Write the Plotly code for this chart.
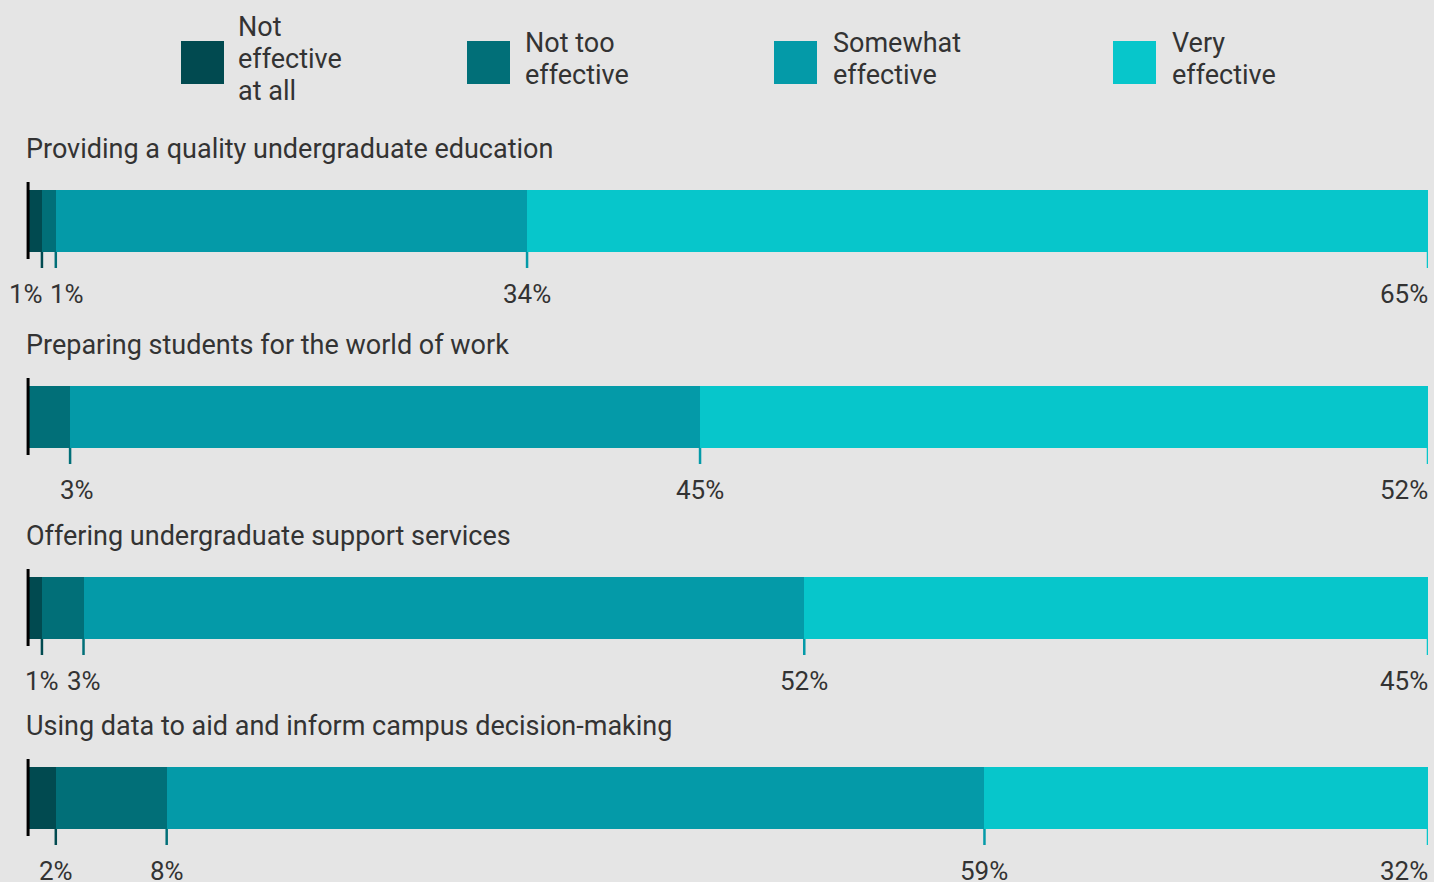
import plotly.graph_objects as go

# ---------------- data ----------------
categories = [
    "Providing a quality undergraduate education",
    "Preparing students for the world of work",
    "Offering undergraduate support services",
    "Using data to aid and inform campus decision-making",
]
series_names = [["Not", "effective", "at all"], ["Not too", "effective"], ["Somewhat", "effective"], ["Very", "effective"]]
not_effective_at_all = [1, 0, 1, 2]
not_too_effective = [1, 3, 3, 8]
somewhat_effective = [34, 45, 52, 59]
very_effective = [65, 52, 45, 32]

# ---------------- style ----------------
colors = ["#014a50", "#016f78", "#049aa8", "#07c6cb"]
BG = "#e5e5e5"
TXT = "#333333"
FONT = "Roboto"
W, H = 1434, 882
X_LEFT_PX, X_RIGHT_PX = 25, 1428
XPAD = 0.22
BAR_TOPS_PX = [190, 386, 577, 767]
BAR_H = 62
ABOVE, BELOW = 8, 16
TITLE_X = 24
TITLE_OFF = -41
LABEL_OFF = 42
LEGEND_SQ_X = [181, 467, 774, 1113]
LEGEND_TXT_X = [236, 523, 831, 1170]
LEGEND_Y = (41, 84)
LEGEND_LINE = 32
LEGEND_MID = 59
# manual label shifts for crowded labels (row, segment) -> px
LABEL_SHIFT = {(0, 0): -16, (0, 1): 11, (1, 1): 7}

series = [not_effective_at_all, not_too_effective, somewhat_effective, very_effective]

fig = go.Figure()
annotations = []
shapes = []
layout = {}

for r, cat in enumerate(categories):
    vals = [s[r] for s in series]
    total = sum(vals)
    widths = [v / total * 100 for v in vals]
    ax = "" if r == 0 else str(r + 1)
    xref, yref = "x" + ax, "y" + ax
    top = BAR_TOPS_PX[r] - ABOVE
    bot = BAR_TOPS_PX[r] + BAR_H + BELOW
    layout["xaxis" + ax] = dict(
        domain=[X_LEFT_PX / W, X_RIGHT_PX / W], range=[-XPAD, 100],
        visible=False, fixedrange=True, anchor=yref,
    )
    layout["yaxis" + ax] = dict(
        domain=[1 - bot / H, 1 - top / H], range=[-BELOW, BAR_H + ABOVE],
        visible=False, fixedrange=True, anchor=xref,
    )
    cum = 0
    for k, w in enumerate(widths):
        fig.add_trace(go.Bar(
            orientation="h", x=[w], y=[BAR_H / 2], width=BAR_H, base=[cum],
            marker=dict(color=colors[k], line=dict(width=0)),
            xaxis=xref, yaxis=yref, showlegend=False, hoverinfo="skip",
        ))
        cum += w
    # left black baseline
    fig.add_trace(go.Scatter(
        x=[0, 0], y=[-7, BAR_H + ABOVE], mode="lines",
        line=dict(color="black", width=3), xaxis=xref, yaxis=yref,
        showlegend=False, hoverinfo="skip",
    ))
    # ticks and labels
    cum = 0
    for k, (v, w) in enumerate(zip(vals, widths)):
        cum += w
        if v == 0:
            continue
        fig.add_trace(go.Scatter(
            x=[cum, cum], y=[0, -BELOW], mode="lines",
            line=dict(color=colors[k], width=2.5), xaxis=xref, yaxis=yref,
            showlegend=False, hoverinfo="skip",
        ))
        last = k == len(vals) - 1
        annotations.append(dict(
            x=cum, xref=xref, y=1 - (BAR_TOPS_PX[r] + BAR_H + LABEL_OFF) / H, yref="paper",
            text=f"{v}%", showarrow=False, xanchor="right" if last else "center",
            yanchor="middle", xshift=LABEL_SHIFT.get((r, k), 0) + (2 if last else 0),
            font=dict(family=FONT, size=26, color=TXT),
        ))
    annotations.append(dict(
        x=TITLE_X / W, xref="paper", y=1 - (BAR_TOPS_PX[r] + TITLE_OFF) / H, yref="paper",
        text=cat, showarrow=False, xanchor="left", yanchor="middle",
        font=dict(family=FONT, size=27, color=TXT),
    ))

# manual legend
for k, lines in enumerate(series_names):
    shapes.append(dict(
        type="rect", xref="paper", yref="paper",
        x0=LEGEND_SQ_X[k] / W, x1=(LEGEND_SQ_X[k] + 43) / W,
        y0=1 - LEGEND_Y[1] / H, y1=1 - LEGEND_Y[0] / H,
        fillcolor=colors[k], line=dict(width=0),
    ))
    n = len(lines)
    for j, line in enumerate(lines):
        ypx = LEGEND_MID + (j - (n - 1) / 2) * LEGEND_LINE
        annotations.append(dict(
            x=LEGEND_TXT_X[k] / W, xref="paper", y=1 - ypx / H, yref="paper",
            text=line, showarrow=False, xanchor="left", yanchor="middle", align="left",
            font=dict(family=FONT, size=27, color=TXT),
        ))

fig.update_layout(
    width=W, height=H, margin=dict(l=0, r=0, t=0, b=0),
    paper_bgcolor=BG, plot_bgcolor=BG, barmode="stack", bargap=0,
    showlegend=False, annotations=annotations, shapes=shapes,
    font=dict(family=FONT, color=TXT), **layout,
)
fig.write_html(
    "out.html", config={"displayModeBar": False},
    post_script="document.body.style.margin='0';document.body.style.overflow='hidden';",
)
